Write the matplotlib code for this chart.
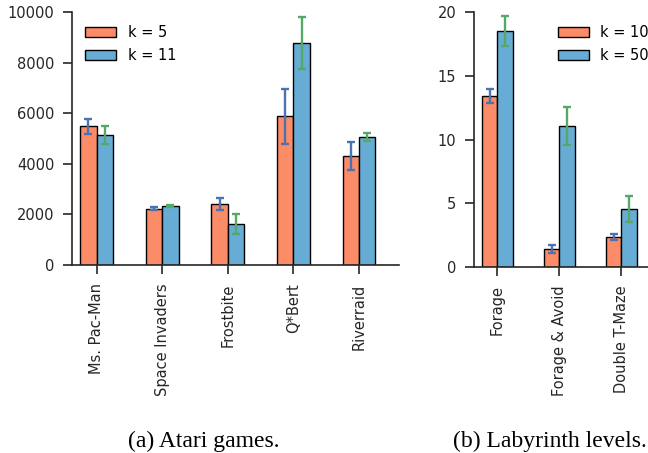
import numpy as np
import matplotlib
matplotlib.use('Agg')
import matplotlib.pyplot as plt

# Atari games (left panel)
atari_games = ['Ms. Pac-Man', 'Space Invaders', 'Frostbite', 'Q*Bert', 'Riverraid']
atari_k5 = [5475, 2230, 2400, 5870, 4300]
atari_k5_err = [310, 70, 230, 1095, 550]
atari_k11 = [5145, 2320, 1625, 8785, 5055]
atari_k11_err = [350, 40, 390, 1020, 165]

# Labyrinth levels (right panel)
lab_levels = ['Forage', 'Forage & Avoid', 'Double T-Maze']
lab_k10 = [13.42, 1.42, 2.36]
lab_k10_err = [0.58, 0.29, 0.24]
lab_k50 = [18.5, 11.06, 4.56]
lab_k50_err = [1.2, 1.48, 1.0]

c_orange = '#fc8b68'
c_blue = '#67acd4'
e_blue = '#4c72b0'
e_green = '#55a868'
txt = '#262626'

plt.rcParams['font.family'] = 'DejaVu Sans'
plt.rcParams['font.size'] = 10.5

fig = plt.figure(figsize=(6.48, 4.53), dpi=100)

def panel(ax, names, a, a_err, b, b_err, labels, ymax, yticks):
    x = np.arange(len(names))
    w = 0.25
    ax.bar(x - w, a, w, align='edge', color=c_orange, edgecolor='black', linewidth=1,
           label=labels[0], zorder=2)
    ax.bar(x, b, w, align='edge', color=c_blue, edgecolor='black', linewidth=1,
           label=labels[1], zorder=2)
    ax.errorbar(x - w / 2, a, yerr=a_err, fmt='none', ecolor=e_blue, elinewidth=1.7,
                capsize=3, capthick=1.7, zorder=3)
    ax.errorbar(x + w / 2, b, yerr=b_err, fmt='none', ecolor=e_green, elinewidth=1.7,
                capsize=3, capthick=1.7, zorder=3)
    ax.set_xticks(x)
    ax.set_xticklabels(names, rotation=90, color=txt)
    ax.set_yticks(yticks)
    ax.set_ylim(0, ymax)
    ax.spines['top'].set_visible(False)
    ax.spines['right'].set_visible(False)
    for s in ['left', 'bottom']:
        ax.spines[s].set_color(txt)
        ax.spines[s].set_linewidth(1.2)
    ax.tick_params(axis='both', direction='out', length=6.3, width=1.2, color=txt,
                   labelcolor=txt)
    ax.tick_params(axis='x', pad=7)
    ax.tick_params(axis='y', pad=6.5)

ax1 = fig.add_axes([72.3 / 648, 188 / 453, 326.7 / 648, 253 / 453])
panel(ax1, atari_games, atari_k5, atari_k5_err, atari_k11, atari_k11_err,
      ['k = 5', 'k = 11'], 10000, [0, 2000, 4000, 6000, 8000, 10000])
ax1.set_xlim(-0.37, 4.61)
ax1.legend(loc='upper left', bbox_to_anchor=(0.0, 1.0), frameon=False,
           handlelength=2.1, handleheight=0.75, handletextpad=0.8, labelspacing=0.55)

ax2 = fig.add_axes([474 / 648, 186 / 453, 186 / 648, 255 / 453])
panel(ax2, lab_levels, lab_k10, lab_k10_err, lab_k50, lab_k50_err,
      ['k = 10', 'k = 50'], 20, [0, 5, 10, 15, 20])
ax2.set_xlim(-0.375, 2.625)
ax2.legend(loc='upper left', bbox_to_anchor=(0.382, 1.0), frameon=False,
           handlelength=2.1, handleheight=0.75, handletextpad=0.8, labelspacing=0.55)

fig.text(204 / 648, 1 - 447 / 453, '(a) Atari games.', family='Liberation Serif',
         fontsize=17, ha='center', va='baseline', color='black')
fig.text(550 / 648, 1 - 447 / 453, '(b) Labyrinth levels.', family='Liberation Serif',
         fontsize=17, ha='center', va='baseline', color='black')

fig.savefig('out.png', dpi=100)
